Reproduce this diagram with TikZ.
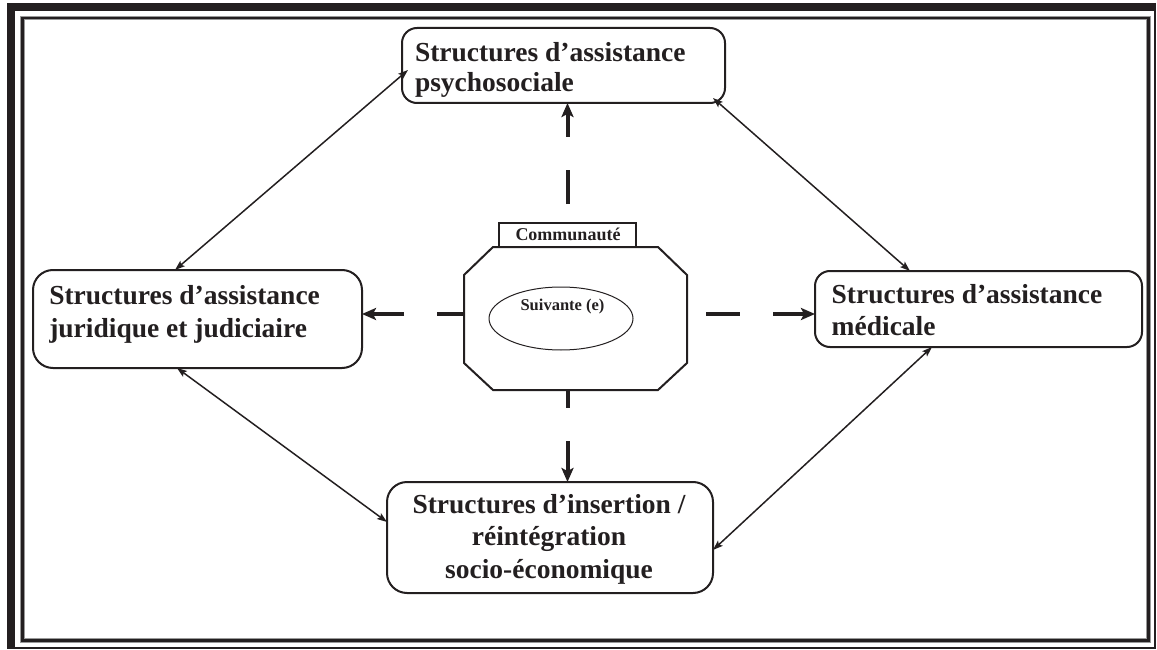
\documentclass[tikz,border=0pt]{standalone}
\usepackage{fontspec}
\setmainfont{Liberation Serif}
\usetikzlibrary{arrows.meta,calc,shapes.geometric}
\definecolor{ink}{HTML}{231F20}

\begin{document}
\begin{tikzpicture}[x=1pt,y=-1pt,
  every node/.style={inner sep=0pt, outer sep=0pt, text=ink},
  sbox/.style={draw=ink, line width=2pt, rounded corners=15pt},
  bigtext/.style={font=\fontsize{27.5}{#1}\selectfont\bfseries},
  link/.style={draw=ink, line width=1.5pt,
    {Stealth[length=10pt,width=7pt,inset=2pt]}-{Stealth[length=10pt,width=7pt,inset=2pt]}},
  flow/.style={draw=ink, line width=4pt, dash pattern=on 34pt off 33pt,
    -{Stealth[length=14pt,width=12pt,inset=3pt]}},
]
\useasboundingbox (0,0) rectangle (1157,650);

% page frame: heavy top/left rule, thin right/bottom rule, inner double line
\fill[ink] (7,3) rectangle (1156,11);
\fill[ink] (7,3) rectangle (15,649);
\draw[ink, line width=2pt] (1155,3) -- (1155,648) -- (7,648);
\draw[black!40, line width=4.5pt] (22.5,18) rectangle (1148.5,640.5);
\draw[ink, line width=2.8pt] (22.5,18) rectangle (1148.5,640.5);

% the four support structures
\node[sbox, minimum width=323pt, minimum height=75pt] (psy) at (563.5,65.5) {};
\node[bigtext=30, anchor=base west] (psyT) at (415,62)
  {\begin{tabular}[t]{@{}l@{}}Structures d’assistance\\psychosociale\end{tabular}};

\node[sbox, rounded corners=20pt, minimum width=329pt, minimum height=98pt] (jur) at (197.5,319) {};
\node[bigtext=33, anchor=base west] (jurT) at (49.3,304)
  {\begin{tabular}[t]{@{}l@{}}Structures d’assistance\\juridique et judiciaire\end{tabular}};

\node[sbox, minimum width=327pt, minimum height=76pt] (med) at (978.5,309) {};
\node[bigtext=32, anchor=base west] (medT) at (831.7,303)
  {\begin{tabular}[t]{@{}l@{}}Structures d’assistance\\médicale\end{tabular}};

\node[sbox, rounded corners=20pt, minimum width=326pt, minimum height=111pt] (ins) at (550,537.5) {};
\node[bigtext=32.5, anchor=base] (insT) at (549,513.3)
  {\begin{tabular}[t]{@{}c@{}}Structures d’insertion /\\réintégration\\socio-économique\end{tabular}};

% the community (octagon) with its tab and the person at its centre
\node[minimum width=223pt, minimum height=143pt] (oct) at (575.5,318.5) {};
\draw[ink, line width=2pt]
  ($(oct.north west)+(29,0)$) -- ($(oct.north east)+(-29,0)$) -- ($(oct.north east)+(0,28)$)
  -- ($(oct.south east)+(0,-27)$) -- ($(oct.south east)+(-29,0)$) -- ($(oct.south west)+(29,0)$)
  -- ($(oct.south west)+(0,-27)$) -- ($(oct.north west)+(0,28)$) -- cycle;

\node[draw=ink, line width=2pt, minimum width=137pt, minimum height=24pt] (comm) at (567.5,235) {};
\node[font=\fontsize{18}{20}\selectfont\bfseries, anchor=base] (commT) at (568,240.5) {Communauté};

\node[draw=ink, line width=1pt, ellipse, minimum width=144pt, minimum height=63pt] (suiv) at (561,318.5) {};
\node[font=\fontsize{16.5}{18}\selectfont\bfseries, anchor=base] (suivT) at (562.5,310) {Suivante (e)};

% dashed referrals from the community
\coordinate (lh) at ($(oct.west)+(0,-4.5)$);
\coordinate (rh) at ($(oct.east)+(0,-4.5)$);
\draw[flow, dash phase=48pt] (comm.north) -- (comm.north |- psy.south);
\draw[flow, dash phase=7pt] (lh) -- (lh -| jur.east);
\draw[flow, dash phase=48pt] (rh) -- (rh -| med.west);
\draw[flow, dash phase=16pt] (comm.north |- oct.south) -- (comm.north |- ins.north);

% two-way links between the structures
\draw[link] ($(psy.south west)+(6,-33)$) -- ($(jur.north west)+(142,0)$);
\draw[link] ($(psy.south east)+(-12,-5)$) -- ($(med.north west)+(95,0)$);
\draw[link] ($(jur.south west)+(144,0)$) -- ($(ins.north west)+(0,40)$);
\draw[link] ($(med.south west)+(117,0)$) -- ($(ins.north east)+(0,68)$);
\end{tikzpicture}
\end{document}
